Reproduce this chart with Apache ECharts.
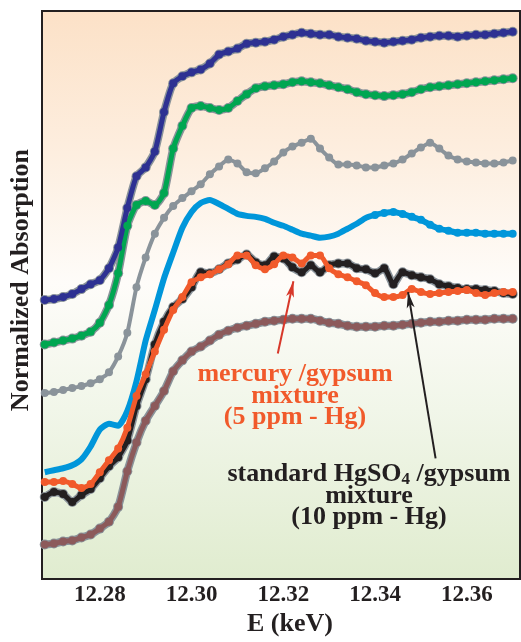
<!DOCTYPE html>
<html>
<head>
<meta charset="utf-8">
<script src="https://cdn.jsdelivr.net/npm/echarts@6/dist/echarts.min.js"></script>
<style>html,body{margin:0;padding:0;background:#fff}#c{width:521px;height:642px}</style>
</head>
<body>
<div id="c"></div>
<script>
// Energy grid (keV)
const energy = [12.268,12.270,12.272,12.274,12.276,12.278,12.280,12.282,12.284,12.286,
12.288,12.290,12.292,12.294,12.296,12.298,12.300,12.302,12.304,12.306,
12.308,12.310,12.312,12.314,12.316,12.318,12.320,12.322,12.324,12.326,
12.328,12.330,12.332,12.334,12.336,12.338,12.340,12.342,12.344,12.346,
12.348,12.350,12.352,12.354,12.356,12.358,12.360,12.362,12.364,12.366,
12.368,12.370];
// Normalized absorption (offset traces, arbitrary units)
const darkBlue = [2.82,2.83,2.85,2.88,2.93,2.98,3.02,3.14,3.35,3.75,
4.07,4.16,4.32,4.72,5.01,5.08,5.12,5.15,5.21,5.30,
5.33,5.36,5.41,5.42,5.43,5.45,5.48,5.50,5.52,5.51,
5.50,5.50,5.48,5.47,5.46,5.44,5.43,5.42,5.43,5.44,
5.45,5.47,5.48,5.49,5.49,5.48,5.49,5.50,5.50,5.51,5.52,5.53];
const green = [2.37,2.39,2.41,2.43,2.46,2.50,2.59,2.77,3.09,3.57,
3.78,3.82,3.78,3.90,4.35,4.58,4.76,4.78,4.76,4.74,
4.76,4.83,4.90,4.96,4.98,4.99,5.00,5.02,5.03,5.02,
5.01,4.99,4.97,4.95,4.92,4.90,4.89,4.88,4.89,4.90,
4.92,4.95,4.97,4.98,4.99,5.00,5.01,5.02,5.03,5.04,5.05,5.06];
const grayTrace = [1.88,1.89,1.91,1.93,1.95,1.98,2.02,2.09,2.25,2.49,
2.95,3.25,3.49,3.65,3.77,3.85,3.92,3.99,4.09,4.17,
4.24,4.20,4.11,4.10,4.15,4.22,4.31,4.37,4.41,4.45,
4.35,4.26,4.19,4.19,4.18,4.16,4.16,4.18,4.20,4.24,
4.30,4.36,4.41,4.35,4.28,4.24,4.22,4.21,4.20,4.20,4.21,4.23];
const lightBlue = [1.08,1.10,1.12,1.15,1.21,1.34,1.51,1.57,1.55,1.70,
2.00,2.41,2.72,3.04,3.30,3.55,3.71,3.80,3.83,3.79,
3.74,3.69,3.67,3.66,3.64,3.60,3.57,3.53,3.49,3.47,
3.45,3.46,3.49,3.54,3.59,3.65,3.68,3.70,3.71,3.69,
3.66,3.63,3.58,3.54,3.52,3.50,3.50,3.50,3.49,3.49,3.49,3.49];
const standardHgSO4 = [0.83,0.88,0.86,0.78,0.85,0.91,1.02,1.14,1.23,1.40,
1.75,2.02,2.37,2.60,2.75,2.83,2.95,3.10,3.09,3.13,
3.19,3.23,3.28,3.20,3.17,3.26,3.24,3.15,3.10,3.17,
3.10,3.17,3.19,3.19,3.14,3.13,3.09,3.14,2.98,3.10,
3.07,3.05,3.03,2.98,2.96,2.94,2.93,2.93,2.92,2.91,2.89,2.88];
const mercuryGypsum = [0.98,0.98,0.99,0.96,0.92,0.96,1.08,1.20,1.32,1.53,
1.85,2.07,2.30,2.52,2.72,2.85,3.00,3.05,3.08,3.13,
3.18,3.27,3.27,3.17,3.13,3.18,3.27,3.25,3.19,3.27,
3.27,3.14,3.08,3.05,3.01,2.97,2.89,2.85,2.85,2.87,
2.93,2.90,2.88,2.89,2.90,2.91,2.92,2.89,2.87,2.89,2.90,2.90];
const brown = [0.35,0.36,0.38,0.39,0.42,0.45,0.51,0.58,0.73,1.09,
1.38,1.60,1.75,1.90,2.10,2.21,2.30,2.35,2.41,2.47,
2.51,2.54,2.56,2.58,2.60,2.61,2.62,2.63,2.63,2.63,
2.61,2.59,2.58,2.56,2.55,2.55,2.55,2.56,2.56,2.57,
2.58,2.59,2.60,2.60,2.61,2.61,2.62,2.62,2.62,2.63,2.63,2.63];
const xTicks = [12.28, 12.30, 12.32, 12.34, 12.36];
const redArrow = [[12.3188, 2.28], [12.3222, 3.01]];
const blackArrow = [[12.3532, 1.22], [12.3472, 2.90]];

const pts = arr => energy.map((e, i) => [e, arr[i]]);
const HALO = '#8A939A';
const SERIF = '"Liberation Serif","Times New Roman",serif';

function halo(arr) {
  return { type: 'line', data: pts(arr), smooth: 0.2, z: 1,
    symbol: 'circle', symbolSize: 10, showAllSymbol: true,
    itemStyle: { color: HALO, borderWidth: 0 },
    lineStyle: { color: HALO, width: 8 }, silent: true };
}
function trace(arr, color, opts) {
  return Object.assign({ type: 'line', data: pts(arr), smooth: 0.2, z: 3,
    symbol: 'circle', symbolSize: 8, showAllSymbol: true,
    itemStyle: { color: color, borderWidth: 0 },
    lineStyle: { color: color, width: 5 }, silent: true }, opts || {});
}
function arrow(seg, color) {
  return { type: 'line', data: [], z: 10, silent: true,
    markLine: { silent: true, symbol: ['none', 'arrow'], symbolSize: [6, 16],
      label: { show: false }, animation: false,
      lineStyle: { color: color, width: 2, type: 'solid' },
      data: [[{ coord: seg[0] }, { coord: seg[1] }]] } };
}

const chart = echarts.init(document.getElementById('c'), null, { renderer: 'canvas' });
chart.setOption({
  animation: false,
  backgroundColor: '#ffffff',
  grid: { left: 42, top: 11, right: 1, bottom: 57, show: true,
    borderColor: '#231F20', borderWidth: 2,
    backgroundColor: { type: 'linear', x: 0, y: 0, x2: 0, y2: 1, colorStops: [
      { offset: 0, color: '#FCE1C7' }, { offset: 0.25, color: '#FDEEDF' },
      { offset: 0.48, color: '#FEFCF9' }, { offset: 0.7, color: '#F1F6E9' },
      { offset: 1, color: '#E0ECCF' }] } },
  xAxis: { type: 'value', min: 12.2674, max: 12.3716,
    name: 'E (keV)', nameLocation: 'middle', nameGap: 30,
    nameTextStyle: { fontFamily: SERIF, fontWeight: 'bold', fontSize: 26, color: '#231F20', padding: [0, 0, 0, 18] },
    axisLine: { show: false }, axisTick: { show: false }, splitLine: { show: false },
    axisLabel: { customValues: xTicks, formatter: v => v.toFixed(2), margin: 4,
      fontFamily: SERIF, fontWeight: 'bold', fontSize: 23, color: '#231F20' } },
  yAxis: { type: 'value', min: 0, max: 5.74,
    name: 'Normalized Absorption', nameLocation: 'middle', nameGap: 8, nameRotate: 90,
    nameTextStyle: { fontFamily: SERIF, fontWeight: 'bold', fontSize: 26, color: '#231F20', padding: [0, 0, 0, 30] },
    axisLine: { show: false }, axisTick: { show: false }, axisLabel: { show: false }, splitLine: { show: false } },
  series: [
    halo(darkBlue), halo(green), halo(standardHgSO4), halo(brown),
    trace(brown, '#8C5A5B'),
    trace(grayTrace, '#8A939A', { lineStyle: { color: '#8A939A', width: 4 } }),
    trace(lightBlue, '#0096DA', { symbolSize: v => (v[0] >= 12.339 ? 8 : 0), lineStyle: { color: '#0096DA', width: 6 } }),
    trace(green, '#00A651'),
    trace(darkBlue, '#2E3192'),
    trace(standardHgSO4, '#231F20'),
    trace(mercuryGypsum, '#F15A2B', { z: 4 }),
    arrow(redArrow, '#D7382A'),
    arrow(blackArrow, '#231F20')
  ],
  graphic: [
    { type: 'text', z: 20, silent: true, style: {
      text: 'mercury /gypsum\nmixture\n(5 ppm - Hg)', x: 295, y: 396,
      textAlign: 'center', textVerticalAlign: 'middle', lineHeight: 21.5,
      font: 'bold 26px ' + SERIF, fill: '#F15A2B' } },
    { type: 'text', z: 20, silent: true, style: {
      text: 'standard HgSO{sub|4} /gypsum\nmixture\n(10 ppm - Hg)', x: 369, y: 496,
      textAlign: 'center', textVerticalAlign: 'middle', lineHeight: 21.5,
      font: 'bold 26px ' + SERIF, fill: '#231F20',
      rich: { sub: { font: 'bold 17px ' + SERIF, fill: '#231F20', padding: [10, 0, 0, 0], lineHeight: 21.5 } } } }
  ]
});
</script>
</body>
</html>
